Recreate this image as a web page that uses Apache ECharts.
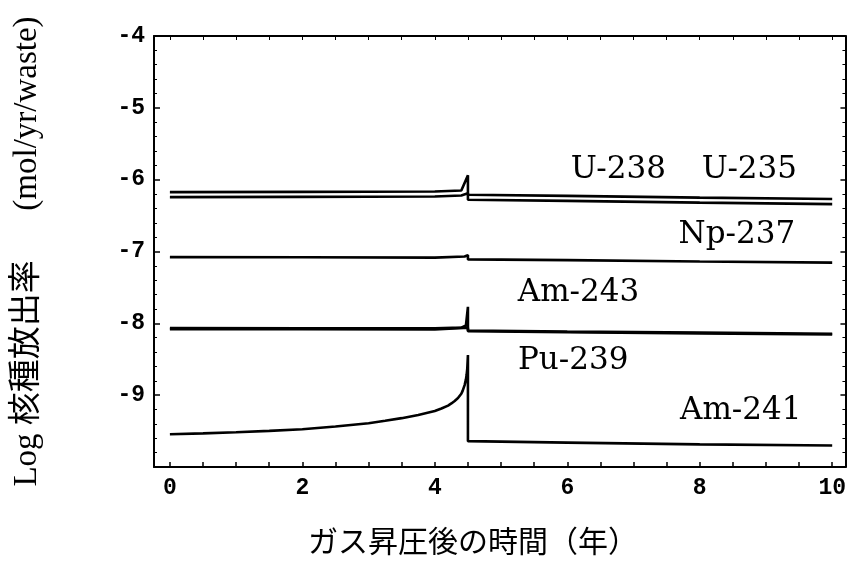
<!DOCTYPE html>
<html><head><meta charset="utf-8">
<script src="https://cdn.jsdelivr.net/npm/echarts@6/dist/echarts.min.js"></script>
<style>html,body{margin:0;padding:0;background:#fff}#c{width:849px;height:574px}</style>
</head><body><div id="c"></div>
<script>
// ---- data ----
const u238X = [0, 2, 4, 4.4, 4.5, 4.5, 6, 8, 10];
const u238Y = [-6.174, -6.17, -6.165, -6.15, -5.94, -6.21, -6.225, -6.25, -6.27];
const u235X = [0, 2, 4, 4.4, 4.5, 4.5, 6, 8, 10];
const u235Y = [-6.243, -6.24, -6.235, -6.22, -6.19, -6.28, -6.295, -6.32, -6.34];
const np237X = [0, 2, 4, 4.45, 4.5, 4.5, 6, 8, 10];
const np237Y = [-7.078, -7.08, -7.085, -7.07, -7.05, -7.11, -7.12, -7.14, -7.155];
const am243X = [0, 2, 4, 4.4, 4.47, 4.5, 4.5, 6, 8, 10];
const am243Y = [-8.067, -8.07, -8.07, -8.06, -8.03, -7.77, -8.10, -8.115, -8.13, -8.145];
const pu239X = [0, 2, 4, 4.5, 4.5, 6, 8, 10];
const pu239Y = [-8.08, -8.082, -8.085, -8.06, -8.11, -8.125, -8.14, -8.155];
const am241X = [0, 0.5, 1, 1.5, 2, 2.5, 3, 3.25, 3.5, 3.75, 4, 4.1, 4.2, 4.25, 4.3, 4.35, 4.4, 4.42, 4.45, 4.47, 4.48, 4.49, 4.5, 4.5, 6, 8, 10];
const am241Y = [-9.544, -9.532, -9.516, -9.497, -9.474, -9.436, -9.39, -9.357, -9.32, -9.275, -9.22, -9.185, -9.145, -9.115, -9.08, -9.04, -8.98, -8.94, -8.86, -8.78, -8.72, -8.63, -8.44, -9.64, -9.66, -9.685, -9.70];

const labelNames = ['U-238', 'U-235', 'Np-237', 'Am-243', 'Pu-239', 'Am-241'];
const labelX = [6.77, 8.75, 8.56, 6.17, 6.09, 8.62];
const labelY = [-5.87, -5.87, -6.77, -7.58, -8.52, -9.22];

const xTicks = [0, 2, 4, 6, 8, 10];
const yTicks = [-4, -5, -6, -7, -8, -9];

const xTitle = 'ガス昇圧後の時間（年）';
const yTitle = 'Log 核種放出率　  (mol/yr/waste)';

// ---- build ----
const zip = (xs, ys) => xs.map((x, i) => [x, ys[i]]);
const lineSeries = (name, xs, ys) => ({
  name, type: 'line', data: zip(xs, ys), showSymbol: false, symbol: 'none',
  lineStyle: { color: '#000', width: 2.6 }, silent: true, z: 3
});

const xMinor = [];
for (let v = 0; v <= 10.001; v += 0.5) xMinor.push(+v.toFixed(2));

const tickFont = { fontFamily: '"Liberation Mono", "DejaVu Sans Mono", monospace', fontSize: 23, fontWeight: 'bold', color: '#000' };

const chart = echarts.init(document.getElementById('c'), null, { renderer: 'canvas' });
chart.setOption({
  animation: false,
  backgroundColor: '#fff',
  grid: { left: 154, right: 1, top: 36, bottom: 107, containLabel: false },
  xAxis: [
    { type: 'value', min: -0.24, max: 10.2, position: 'bottom',
      axisLine: { show: true, onZero: false, lineStyle: { color: '#000', width: 2 } },
      axisTick: { show: true, inside: true, length: 5, customValues: xMinor, lineStyle: { color: '#000', width: 1.5 } },
      axisLabel: { show: true, customValues: xTicks, margin: 10, ...tickFont },
      splitLine: { show: false }
    },
    { type: 'value', min: -0.24, max: 10.2, position: 'top',
      axisLine: { show: true, onZero: false, lineStyle: { color: '#000', width: 2 } },
      axisTick: { show: true, inside: true, length: 4, customValues: xMinor, lineStyle: { color: '#000', width: 1 } },
      axisLabel: { show: false }, splitLine: { show: false }
    }
  ],
  yAxis: [
    { type: 'value', min: -10, max: -4, interval: 1, position: 'left',
      axisLine: { show: true, onZero: false, lineStyle: { color: '#000', width: 2 } },
      axisTick: { show: true, inside: true, length: 6, lineStyle: { color: '#000', width: 1.5 } },
      minorTick: { show: true, splitNumber: 5, length: 3, lineStyle: { color: '#000', width: 1 } },
      axisLabel: { show: true, customValues: yTicks, margin: 9, ...tickFont },
      splitLine: { show: false },
      name: yTitle, nameLocation: 'middle', nameGap: 110,
      nameTextStyle: { fontFamily: '"Liberation Serif", "Noto Sans CJK JP", serif', fontSize: 33, color: '#000' }
    },
    { type: 'value', min: -10, max: -4, interval: 1, position: 'right',
      axisLine: { show: true, onZero: false, lineStyle: { color: '#000', width: 2 } },
      axisTick: { show: true, inside: true, length: 5, lineStyle: { color: '#000', width: 1.5 } },
      minorTick: { show: true, splitNumber: 5, length: 3, lineStyle: { color: '#000', width: 1 } },
      axisLabel: { show: false }, splitLine: { show: false }
    }
  ],
  graphic: [
    { type: 'text', silent: true,
      style: { text: xTitle, x: 473, y: 541, align: 'center', verticalAlign: 'middle',
        font: '30px "Noto Sans CJK JP", sans-serif', fill: '#000' } }
  ],
  series: [
    lineSeries('U-238', u238X, u238Y),
    lineSeries('U-235', u235X, u235Y),
    lineSeries('Np-237', np237X, np237Y),
    lineSeries('Am-243', am243X, am243Y),
    lineSeries('Pu-239', pu239X, pu239Y),
    lineSeries('Am-241', am241X, am241Y),
    { type: 'scatter', silent: true, symbolSize: 0, z: 4,
      itemStyle: { color: '#000', opacity: 1 },
      data: labelNames.map((n, i) => ({ name: n, value: [labelX[i], labelY[i]] })),
      label: { show: true, position: 'inside', formatter: p => p.name, opacity: 1,
        fontFamily: '"DejaVu Serif", "Liberation Serif", serif', fontSize: 31, color: '#000' }
    }
  ]
});
</script></body></html>
